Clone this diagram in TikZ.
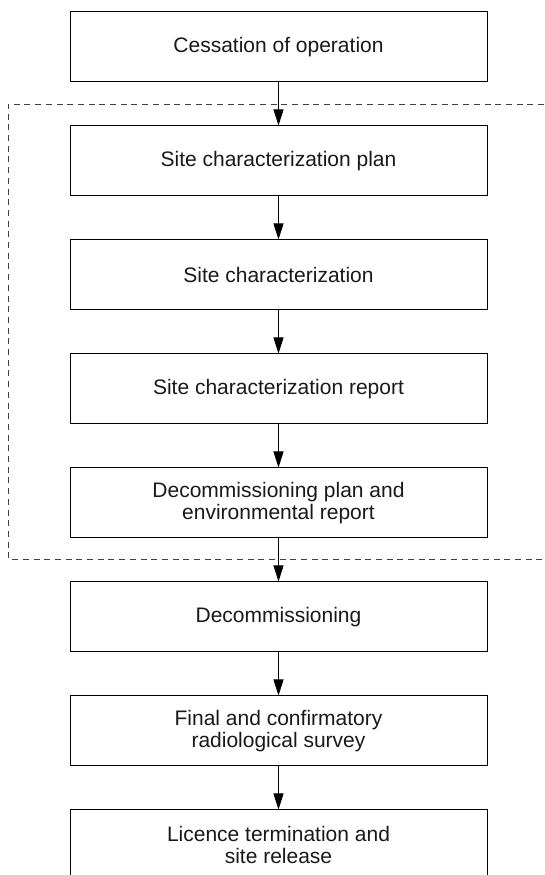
\documentclass[tikz,border=0pt]{standalone}
\usepackage{fontspec}
\setmainfont{Liberation Sans}
\usetikzlibrary{arrows.meta}

\begin{document}
\begin{tikzpicture}[x=1pt,y=1pt]
\tikzstyle{fase} = [draw, line width=1pt, minimum width=417pt, minimum height=70pt, inner sep=0, align=center, font=\fontsize{21}{22}\selectfont, text=black!90]
\tikzstyle{freccia} = [line width=1pt, -{Triangle[length=16pt,width=10pt]}]

% Dimensioni
\def\passo{114}
\def\xc{278.5}

\useasboundingbox (0,0) rectangle (544,875);

% Fasi
\foreach \testo [count=\i] in {Cessation of operation, Site characterization plan, Site characterization, Site characterization report, {Decommissioning plan and\\environmental report}, Decommissioning, {Final and confirmatory\\radiological survey}, {Licence termination and\\site release}} {
  \pgfmathsetmacro\y{875 - 47 - \passo*(\i-1)}
  \node[fase] (f\i) at (\xc,\y) {\testo};
}

% Frecce
\foreach \i in {1,...,7} {
  \pgfmathtruncatemacro{\j}{\i + 1}
  \draw[freccia] (f\i) -- (f\j);
}

% Riquadro tratteggiato
\draw[line width=0.8pt, dash pattern=on 6pt off 4.7pt, black!75] (544,771) -- (8,771) -- (8,316) -- (544,316);

\end{tikzpicture}
\end{document}
